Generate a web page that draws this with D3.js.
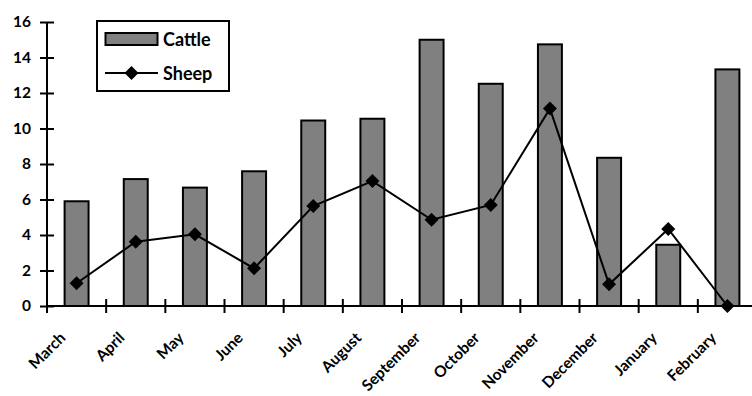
<!DOCTYPE html>
<html><head><meta charset="utf-8">
<script src="https://cdn.jsdelivr.net/npm/d3@7"></script>
<style>body{margin:0;background:#fff}svg{display:block}text{font-family:Lato,"Open Sans",sans-serif;font-weight:bold}</style>
</head><body><svg id="c" width="752" height="396"></svg>
<script>
const months = ["March","April","May","June","July","August","September","October","November","December","January","February"];
const cattle = [5.9,7.15,6.67,7.59,10.45,10.55,15.0,12.52,14.74,8.35,3.45,13.33];
const sheep = [1.28,3.62,4.04,2.12,5.63,7.04,4.86,5.69,11.12,1.22,4.34,0.0];
const yTicks = [0,2,4,6,8,10,12,14,16];

const svg = d3.select("#c");
const x = d3.scaleBand().domain(months).range([47,757]).paddingInner(0.595).paddingOuter(0.2975);
const xb = d3.scaleBand().domain(months).range([47,757]);
const y = d3.scaleLinear().domain([0,16]).range([306,22]);

// bars
svg.append("g").selectAll("rect").data(months).join("rect")
  .attr("x", d=>x(d)).attr("width", x.bandwidth())
  .attr("y", (d,i)=>y(cattle[i])).attr("height",(d,i)=>y(0)-y(cattle[i]))
  .attr("fill","#808080").attr("stroke","#000").attr("stroke-width",2);

// y axis
const ya = svg.append("g").attr("transform","translate(47,0)")
  .call(d3.axisLeft(y).tickValues(yTicks).tickSize(7).tickPadding(9).tickFormat(d3.format("d")));
ya.select(".domain").attr("stroke","#000").attr("stroke-width",2).attr("d","M0,22V306");
ya.selectAll(".tick line").attr("x1",-7).attr("x2",7).attr("stroke-width",2);
ya.selectAll(".tick text").attr("font-size",15.5).attr("font-family","Lato").attr("font-weight","bold").attr("fill","#000");

// x axis
const tickPos = months.map(m=>xb(m)).concat([757]);
const xg = svg.append("g");
xg.append("line").attr("x1",47).attr("x2",757).attr("y1",306).attr("y2",306).attr("stroke","#000").attr("stroke-width",2);
xg.selectAll("line.t").data(tickPos).join("line").attr("class","t")
  .attr("x1",d=>d).attr("x2",d=>d).attr("y1",299).attr("y2",313).attr("stroke","#000").attr("stroke-width",2);
xg.selectAll("text").data(months).join("text")
  .attr("transform", d=>`translate(${xb(d)+xb.bandwidth()/2-14},${335}) rotate(-45)`)
  .attr("text-anchor","end").attr("dy","0.35em").attr("font-size",15.5).text(d=>d);

// line
const line = d3.line().x((d,i)=>xb(months[i])+xb.bandwidth()/2).y(d=>y(d));
svg.append("path").datum(sheep).attr("d",line).attr("fill","none").attr("stroke","#000").attr("stroke-width",2);
const diamond = "M0,-7L7,0L0,7L-7,0Z";
svg.append("g").selectAll("path").data(sheep).join("path")
  .attr("transform",(d,i)=>`translate(${xb(months[i])+xb.bandwidth()/2},${y(d)})`)
  .attr("d",diamond).attr("fill","#000");

// legend
const lg = svg.append("g");
lg.append("rect").attr("x",97).attr("y",21).attr("width",132).attr("height",70).attr("fill","#fff").attr("stroke","#000").attr("stroke-width",2);
lg.append("rect").attr("x",105.5).attr("y",33).attr("width",52).attr("height",12).attr("fill","#808080").attr("stroke","#000").attr("stroke-width",2);
lg.append("text").attr("x",163).attr("y",46).attr("font-size",18).text("Cattle");
lg.append("line").attr("x1",105).attr("x2",158).attr("y1",73).attr("y2",73).attr("stroke","#000").attr("stroke-width",2);
lg.append("path").attr("transform","translate(131.5,73)").attr("d",diamond).attr("fill","#000");
lg.append("text").attr("x",163).attr("y",80).attr("font-size",18).text("Sheep");
</script></body></html>
